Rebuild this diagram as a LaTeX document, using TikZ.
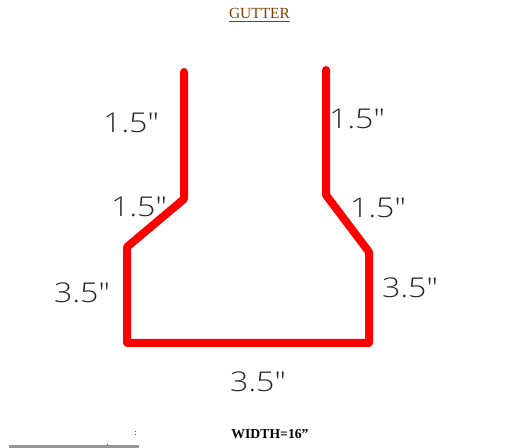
\documentclass[tikz,border=0pt]{standalone}
\usepackage{fontspec}
\setmainfont{Liberation Serif}
\newfontfamily\dimfont{Open Sans Light}[]
\usetikzlibrary{positioning}
\definecolor{titlebrown}{RGB}{128,64,0}
\definecolor{bargray}{RGB}{150,150,150}
\tikzset{
    gutterline/.style={draw=red,line width=0.16cm,line join=round,line cap=round},
    dimlabel/.style={font=\dimfont\fontsize{15.5}{15.5}\selectfont,text=black!85,inner sep=0pt,xscale=1.18},
}
\begin{document}
\begin{tikzpicture}[x=0.02cm,y=0.02cm]
    \useasboundingbox (0,0) rectangle (509,448);
    % outline of the gutter
    \draw[gutterline] (184,376) -- (184,249) -- (127,201) -- (127,105) -- (369,105) -- (369,196) -- (326,253) -- (326,378);
    % dimensions
    \node[dimlabel] (topleft) at (131,325) {1.5"};
    \node[dimlabel] (topright) at (357,329) {1.5"};
    \node[dimlabel] (slopeleft) at (139,241) {1.5"};
    \node[dimlabel] (sloperight) at (378,240) {1.5"};
    \node[dimlabel] (sideleft) at (82,155) {3.5"};
    \node[dimlabel] (sideright) at (410,160) {3.5"};
    \node[dimlabel] (bottom) at (258,66) {3.5"};
    % title and width
    \node[font=\fontsize{8.8}{10}\selectfont,text=titlebrown,inner sep=0pt] (title) at (259.5,433) {\underline{GUTTER}};
    \node[font=\bfseries\fontsize{7.8}{10}\selectfont,inner sep=0pt] (width) at (270,14) {WIDTH=16"};
    % bar at the lower edge
    \fill[bargray] (9,0) rectangle (139,3);
    \fill[titlebrown] (134.5,15.5) rectangle (135.5,16.5);
    \fill[titlebrown] (134.5,12.5) rectangle (135.5,13.5);
    \fill[titlebrown] (107,3) rectangle (108,4);
\end{tikzpicture}
\end{document}
